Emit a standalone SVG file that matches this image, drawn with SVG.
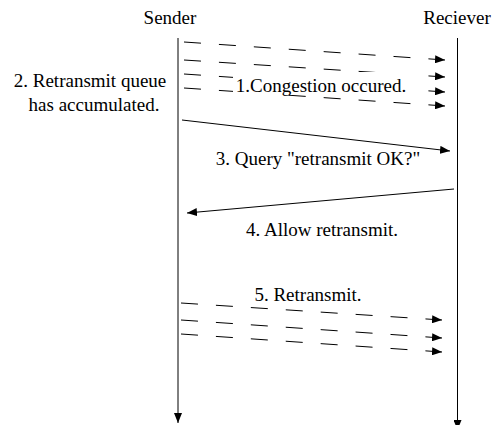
<svg xmlns="http://www.w3.org/2000/svg" width="500" height="425" viewBox="0 0 500 425">
  <style>
    text { font-family: "Liberation Serif", "Times New Roman", serif; font-size: 19px; fill: #000; }
    .life { stroke: #000; stroke-width: 1; fill: none; }
    .msg { stroke: #000; stroke-width: 1; fill: none; }
    .dash { stroke: #000; stroke-width: 1; fill: none; stroke-dasharray: 17 18; }
  </style>
  <defs>
    <marker id="arrow" viewBox="0 0 10 8" refX="10" refY="4" markerWidth="10" markerHeight="8" markerUnits="userSpaceOnUse" orient="auto">
      <path d="M0,0 L10,4 L0,8 z" fill="#000"/>
    </marker>
  </defs>

  <!-- participants -->
  <g id="sender">
    <text x="170" y="24" text-anchor="middle">Sender</text>
    <line class="life" x1="178" y1="38" x2="178" y2="423" marker-end="url(#arrow)"/>
  </g>
  <g id="receiver">
    <text x="457" y="24" text-anchor="middle">Reciever</text>
    <line class="life" x1="457.5" y1="38" x2="457.5" y2="430" marker-end="url(#arrow)"/>
  </g>

  <!-- messages -->
  <g id="connectors">
    <line class="dash" x1="184" y1="42" x2="445" y2="60" marker-end="url(#arrow)"/>
    <line class="dash" x1="184" y1="60" x2="445" y2="77" marker-end="url(#arrow)"/>
    <line class="dash" x1="184" y1="74" x2="445" y2="92" marker-end="url(#arrow)"/>
    <line class="dash" x1="184" y1="88" x2="445" y2="106" marker-end="url(#arrow)"/>

    <line class="msg" x1="182" y1="120" x2="450" y2="151" marker-end="url(#arrow)"/>
    <line class="msg" x1="454" y1="189" x2="187" y2="213" marker-end="url(#arrow)"/>

    <line class="dash" x1="181" y1="303" x2="442" y2="320" marker-end="url(#arrow)"/>
    <line class="dash" x1="181" y1="320" x2="442" y2="338" marker-end="url(#arrow)"/>
    <line class="dash" x1="181" y1="334" x2="442" y2="352" marker-end="url(#arrow)"/>
  </g>

  <!-- labels -->
  <g id="label-congestion">
    <rect x="233" y="72" width="178" height="23" fill="#fff"/>
    <text x="321" y="92" text-anchor="middle">1.Congestion occured.</text>
  </g>
  <g id="label-queue">
    <text x="90" y="87" text-anchor="middle">2. Retransmit queue</text>
    <text x="94" y="111" text-anchor="middle">has accumulated.</text>
  </g>
  <g id="label-query">
    <text x="318" y="165" text-anchor="middle">3. Query "retransmit OK?"</text>
  </g>
  <g id="label-allow">
    <text x="322" y="236" text-anchor="middle">4. Allow retransmit.</text>
  </g>
  <g id="label-retransmit">
    <text x="308" y="301" text-anchor="middle">5. Retransmit.</text>
  </g>
</svg>
